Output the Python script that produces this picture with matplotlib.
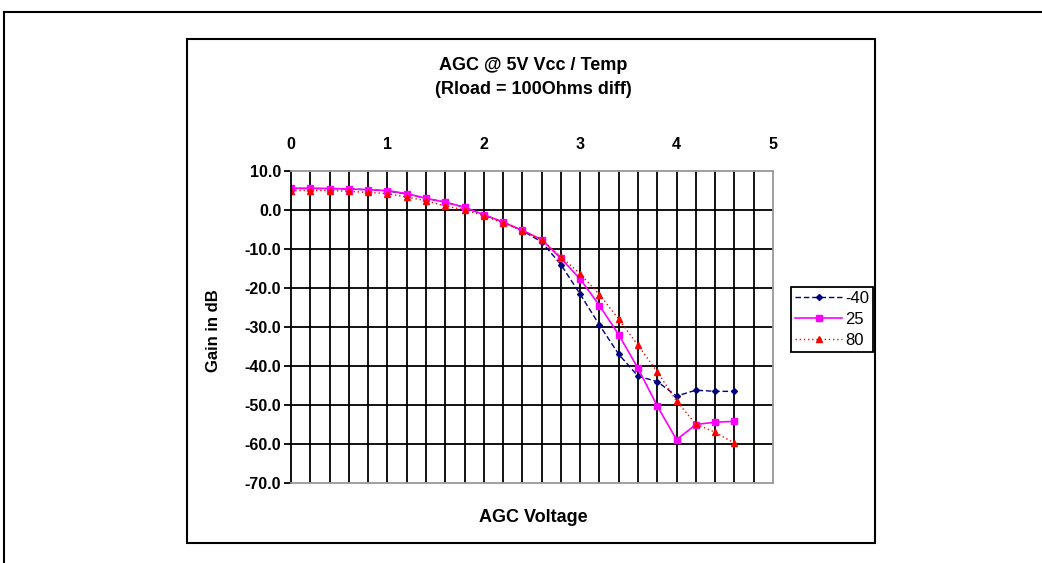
import matplotlib.pyplot as plt
from matplotlib.lines import Line2D
from matplotlib.patches import Rectangle

plt.rcParams["font.family"] = ["Liberation Sans", "DejaVu Sans"]

agc_voltage = [0.0, 0.2, 0.4, 0.6, 0.8, 1.0, 1.2, 1.4, 1.6, 1.8, 2.0, 2.2,
               2.4, 2.6, 2.8, 3.0, 3.2, 3.4, 3.6, 3.8, 4.0, 4.2, 4.4, 4.6]

gain_m40 = [5.5, 5.5, 5.5, 5.4, 5.2, 4.9, 4.1, 3.0, 2.0, 0.7, -1.2, -3.1,
            -5.3, -8.2, -14.0, -21.6, -29.5, -37.0, -42.6, -44.0, -47.7, -46.2,
            -46.5, -46.5]
gain_25 = [5.6, 5.6, 5.5, 5.4, 5.2, 5.0, 4.2, 3.0, 2.0, 0.7, -1.2, -3.1,
           -5.2, -7.6, -12.4, -17.7, -24.5, -32.0, -40.6, -50.3, -58.9, -55.0,
           -54.4, -54.2]
gain_80 = [5.0, 5.0, 5.0, 4.8, 4.5, 4.2, 3.3, 2.4, 1.0, 0.1, -1.5, -3.3,
           -5.3, -7.6, -12.0, -16.4, -21.7, -28.0, -34.7, -41.5, -49.0, -54.9,
           -57.0, -59.8]

labels = ["-40", "25", "80"]


def main() -> None:
    fig = plt.figure(figsize=(10.42, 5.63), dpi=100)

    # document frame lines and chart box
    fig.add_artist(Line2D([0.004, 1.0], [1 - 12 / 563, 1 - 12 / 563],
                          color="black", lw=1.5))
    fig.add_artist(Line2D([0.004, 0.004], [0.0, 1 - 12 / 563],
                          color="black", lw=1.5))
    fig.add_artist(Rectangle((187 / 1042, 1 - 543 / 563), 688 / 1042, 504 / 563,
                             fill=False, edgecolor="black", lw=1.5))

    ax = fig.add_axes([291 / 1042, 1 - 483 / 563, 482 / 1042, 312 / 563])

    ax.plot(agc_voltage, gain_m40, color="#000080", ls=(0, (4, 2)), lw=1,
            marker="D", ms=3, label=labels[0])
    ax.plot(agc_voltage, gain_25, color="#FF00FF", ls="-", lw=1.2,
            marker="s", ms=5, label=labels[1])
    ax.plot(agc_voltage, gain_80, color="#FF0000", ls=(0, (1, 2)), lw=1,
            marker="^", ms=5, label=labels[2])

    ax.set_xlim(0, 5)
    ax.set_ylim(-70, 10)

    for i in range(1, 25):
        ax.axvline(i * 0.2, color="black", lw=1.3, zorder=0)
    for v in range(-60, 10, 10):
        ax.axhline(v, color="black", lw=1.3, zorder=0)

    ax.xaxis.tick_top()
    ax.set_xticks(range(6))
    ax.tick_params(axis="x", length=0, pad=14, labelsize=11.5)
    ax.set_yticks(range(-70, 11, 10))
    ax.set_yticklabels([f"{v:.1f}" for v in range(-70, 11, 10)])
    ax.tick_params(axis="y", length=5, width=1.3, labelsize=11.5, pad=2)
    for lab in ax.get_xticklabels() + ax.get_yticklabels():
        lab.set_fontweight("bold")

    for side in ["top", "right", "bottom"]:
        ax.spines[side].set_color("#999999")
        ax.spines[side].set_linewidth(1.3)
    ax.spines["left"].set_linewidth(1.3)

    fig.text(533 / 1042, 1 - 65 / 563, "AGC @ 5V Vcc / Temp",
             ha="center", va="center", fontsize=13, fontweight="bold")
    fig.text(533 / 1042, 1 - 89 / 563, "(Rload = 100Ohms diff)",
             ha="center", va="center", fontsize=13, fontweight="bold")
    fig.text(533 / 1042, 1 - 517 / 563, "AGC Voltage",
             ha="center", va="center", fontsize=13, fontweight="bold")
    fig.text(213 / 1042, 1 - 331 / 563, "Gain in dB", rotation=90,
             ha="center", va="center", fontsize=12, fontweight="bold")

    leg = ax.legend(loc="upper left", bbox_to_anchor=(791 / 1042, 1 - 287 / 563),
                    bbox_transform=fig.transFigure, fancybox=False,
                    edgecolor="black", framealpha=1, fontsize=12,
                    handlelength=2.8, handletextpad=0.2, borderpad=0.25,
                    labelspacing=0.35, borderaxespad=0)
    leg.get_frame().set_linewidth(1.3)

    fig.savefig("out.png", dpi=100)


if __name__ == "__main__":
    main()
